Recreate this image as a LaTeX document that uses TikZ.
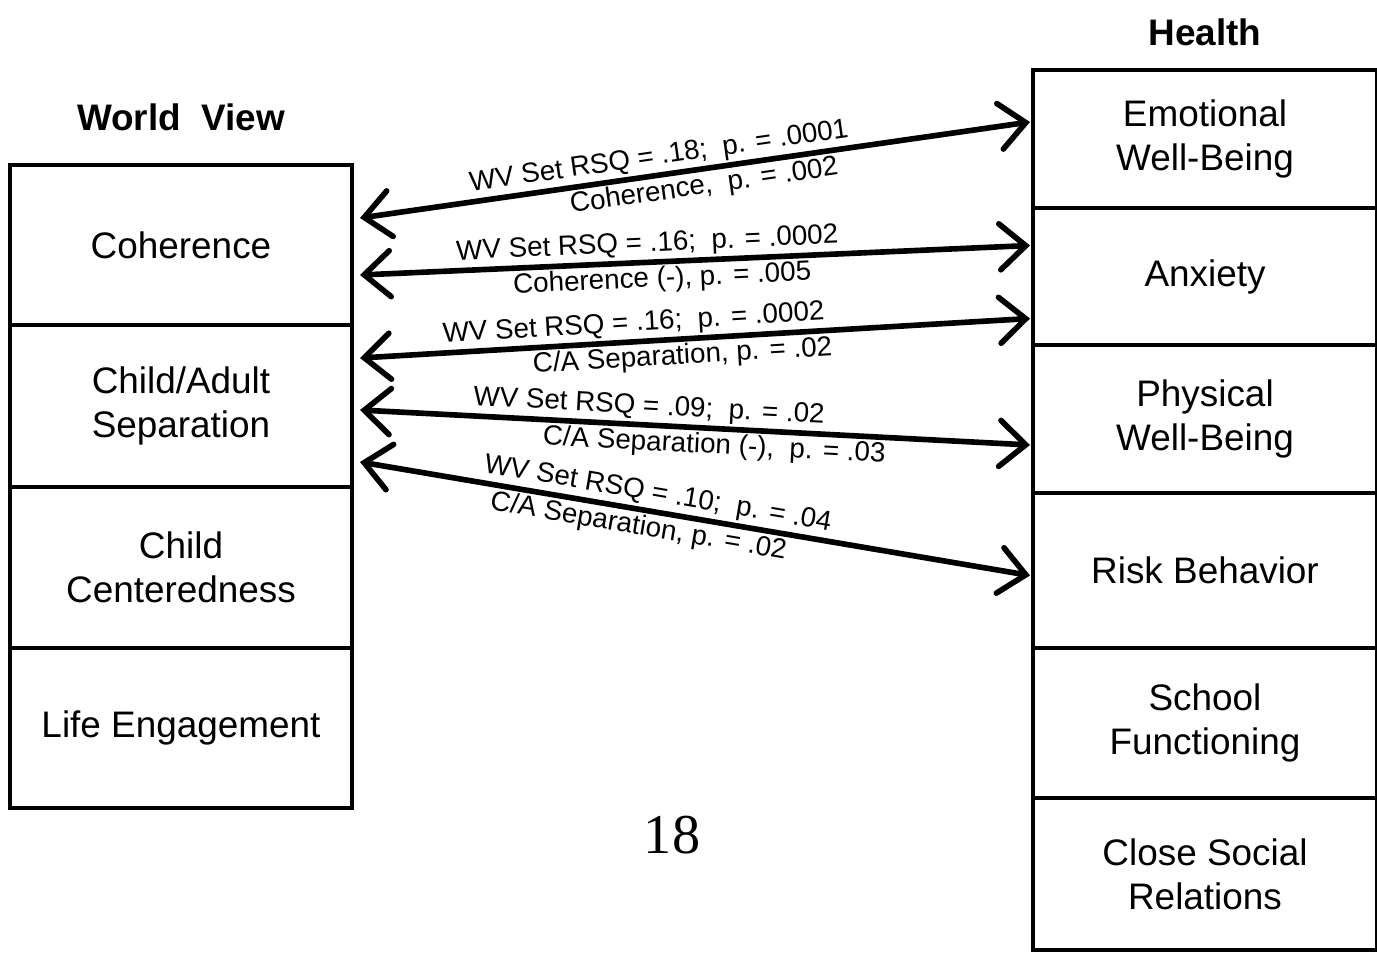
\documentclass[tikz,border=0pt]{standalone}
\usepackage{fontspec}
\setmainfont{Liberation Sans}
\newfontfamily\pagefont{Liberation Serif}
\usetikzlibrary{positioning,arrows.meta}

\begin{document}
\begin{tikzpicture}[<->,>={Straight Barb[length=2.6mm,width=4.6mm,line cap=round]},
  line width=1.6pt,
  wv box/.style={draw,line width=1.1pt,minimum width=3.42cm,outer sep=0pt,
    align=center,font=\fontsize{10.5}{12.5}\selectfont},
  health box/.style={draw,line width=1.1pt,minimum width=3.44cm,outer sep=0pt,
    align=center,font=\fontsize{10.5}{12.5}\selectfont},
  head/.style={font=\bfseries\fontsize{10.5}{12}\selectfont},
  stat/.style={sloped,font=\fontsize{7.9}{9}\selectfont,inner sep=0.6pt}]

  \useasboundingbox (0,0) rectangle (13.77,9.52);

  % world view column
  \node[wv box,minimum height=1.60cm,anchor=north] (coh) at (1.81,7.87) {Coherence};
  \node[wv box,minimum height=1.62cm,below=0pt of coh] (cas) {Child/Adult\\Separation};
  \node[wv box,minimum height=1.61cm,below=0pt of cas] (cc) {Child\\Centeredness};
  \node[wv box,minimum height=1.60cm,below=0pt of cc] (le) {Life Engagement};
  \node[head] (wv) [above=0.2cm of coh] {World\ \ View};

  % health column
  \node[health box,minimum height=1.38cm,anchor=north] (emo) at (12.05,8.82) {Emotional\\Well-Being};
  \node[health box,minimum height=1.37cm,below=0pt of emo] (anx) {Anxiety};
  \node[health box,minimum height=1.48cm,below=0pt of anx] (phy) {Physical\\Well-Being};
  \node[health box,minimum height=1.55cm,below=0pt of phy] (risk) {Risk Behavior};
  \node[health box,minimum height=1.50cm,below=0pt of risk] (sch) {School\\Functioning};
  \node[health box,minimum height=1.52cm,below=0pt of sch] (csr) {Close Social\\Relations};
  \node[head] (hl) [above=0.1cm of emo] {Health};

  \node[font=\pagefont\fontsize{16}{18}\selectfont] (pg) at (6.72,1.17) {18};

  % links
  \draw ([shift={(0.08,0.27)}]coh.east) -- ([shift={(-0.03,0.17)}]emo.west)
    node[stat,above,pos=0.45] {WV Set RSQ = .18;\ \ p. = .0001}
    node[stat,below,pos=0.51] {Coherence,\ \ p. = .002};
  \draw ([shift={(0.08,-0.30)}]coh.east) -- ([shift={(-0.03,0.31)}]anx.west)
    node[stat,above,pos=0.43] {WV Set RSQ = .16;\ \ p. = .0002}
    node[stat,below,pos=0.45] {Coherence (-), p. = .005};
  \draw ([shift={(0.08,0.48)}]cas.east) -- ([shift={(-0.03,-0.42)}]anx.west)
    node[stat,above,pos=0.41] {WV Set RSQ = .16;\ \ p. = .0002}
    node[stat,below,pos=0.48] {C/A Separation, p. = .02};
  \draw ([shift={(0.08,-0.04)}]cas.east) -- ([shift={(-0.03,-0.26)}]phy.west)
    node[stat,above,pos=0.43] {WV Set RSQ = .09;\ \ p. = .02}
    node[stat,below,pos=0.53] {C/A Separation (-),\ \ p. = .03};
  \draw ([shift={(0.08,-0.56)}]cas.east) -- ([shift={(-0.03,-0.05)}]risk.west)
    node[stat,above,pos=0.44] {WV Set RSQ = .10;\ \ p. = .04}
    node[stat,below,pos=0.42] {C/A Separation, p. = .02};
\end{tikzpicture}
\end{document}
